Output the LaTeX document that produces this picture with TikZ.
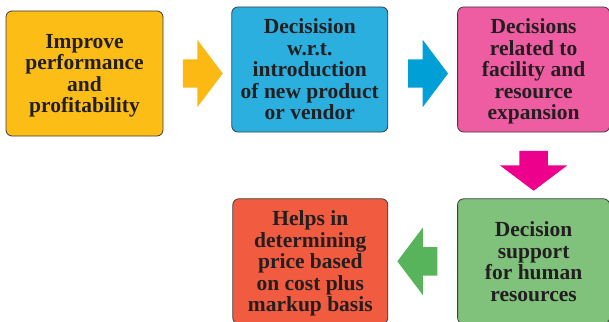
\documentclass[tikz,border=0pt]{standalone}
\usepackage{fontspec}
\setmainfont{Liberation Serif}
\usepackage{tikz}
\usetikzlibrary{positioning, shapes.arrows, calc}

\definecolor{txtdark}{HTML}{231F20}
\definecolor{edgegray}{HTML}{3D3D3D}
\definecolor{boxyellow}{HTML}{FCBD16}
\definecolor{boxblue}{HTML}{2AAFDF}
\definecolor{boxpink}{HTML}{EE5CA1}
\definecolor{boxgreen}{HTML}{80C17C}
\definecolor{boxred}{HTML}{F15B40}
\definecolor{arryellow}{HTML}{FDB913}
\definecolor{arrblue}{HTML}{009FD6}
\definecolor{arrpink}{HTML}{EC008C}
\definecolor{arrgreen}{HTML}{57B45B}

\begin{document}
\begin{tikzpicture}[
  x=1pt, y=1pt,
  stage/.style={draw=edgegray, line width=0.8pt, rounded corners=6pt,
    minimum height=125pt, align=center, inner sep=0pt, text=txtdark,
    text depth=-3pt, font=\fontsize{21.5}{21.5}\selectfont\bfseries},
  flow/.style={single arrow, draw=none, inner xsep=0pt, inner ysep=14pt,
    minimum width=67pt, minimum height=40pt,
    single arrow head extend=19.5pt, single arrow tip angle=106},
]
\useasboundingbox (0,0) rectangle (609,-321);

% Top row
\node[stage, fill=boxyellow, minimum width=157pt] (improve) at (84.5,-73.5)
  {Improve\\performance\\and\\profitability};
\node[stage, fill=boxblue, minimum width=156pt, right=68pt of improve, yshift=4pt] (product)
  {Decisision\\w.r.t.\\introduction\\of new product\\or vendor};
\node[stage, fill=boxpink, minimum width=152pt, right=69pt of product] (facility)
  {Decisions\\related to\\facility and\\resource\\expansion};

% Bottom row
\node[stage, fill=boxgreen, minimum width=152pt, below=66pt of facility] (human)
  {Decision\\support\\for human\\resources};
\node[stage, fill=boxred, minimum width=155pt, left=69pt of human] (price)
  {Helps in\\determining\\price based\\on cost plus\\markup basis};

% Block arrows
\node[flow, fill=arryellow] (a1) at ($(improve.east)!0.5!(product.west|-improve.east)$) {};
\node[flow, fill=arrblue] (a2) at ($(product.east)!0.5!(facility.west)+(0,-4)$) {};
\node[flow, fill=arrpink, shape border rotate=270, inner xsep=14pt, inner ysep=0pt]
  (a3) at ($(facility.south)!0.5!(human.north)$) {};
\node[flow, fill=arrgreen, shape border rotate=180] (a4) at ($(human.west)!0.5!(price.east)$) {};

\end{tikzpicture}
\end{document}
